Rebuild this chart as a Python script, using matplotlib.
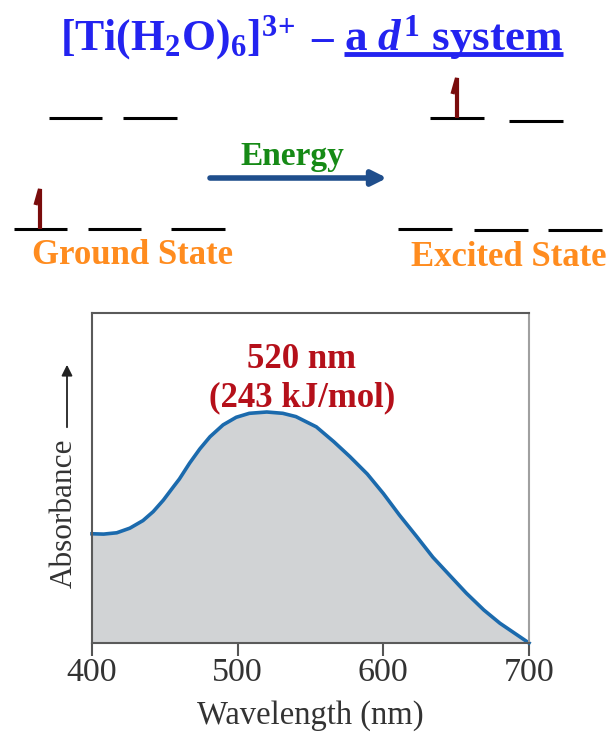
import matplotlib
matplotlib.use('Agg')
import matplotlib.pyplot as plt

plt.rcParams['font.family'] = ['Liberation Serif', 'DejaVu Serif']
plt.rcParams['mathtext.fontset'] = 'custom'
plt.rcParams['mathtext.rm'] = 'Liberation Serif:bold'
plt.rcParams['mathtext.bf'] = 'Liberation Serif:bold'
plt.rcParams['mathtext.it'] = 'Liberation Serif:bold:italic'

# absorption spectrum
wavelength = [400, 408, 417, 426, 435, 442, 449, 456, 460, 467, 474, 481,
              490, 499, 508, 520, 531, 540, 554, 566, 577, 589, 600, 611,
              623, 634, 646, 657, 669, 680, 692, 700]
absorbance = [0.331, 0.330, 0.334, 0.348, 0.371, 0.398, 0.433, 0.474, 0.497,
              0.545, 0.588, 0.625, 0.661, 0.684, 0.696, 0.700, 0.696, 0.686,
              0.655, 0.610, 0.565, 0.512, 0.453, 0.388, 0.322, 0.260, 0.203,
              0.151, 0.100, 0.060, 0.024, 0.0]
xticks = [400, 500, 600, 700]

fig = plt.figure(figsize=(6.1, 7.32), dpi=100)

# spectrum
ax = fig.add_axes([92/610, 1-643/732, 437/610, 330/732])
ax.fill_between(wavelength, absorbance, 0, color='#d1d3d5', lw=0)
ax.plot(wavelength, absorbance, color='#1b6aad', lw=2.6, clip_on=False)
ax.set_xlim(400, 700)
ax.set_ylim(0, 1)
ax.set_xticks(xticks)
ax.set_yticks([])
ax.tick_params(axis='x', direction='out', length=9.5, width=1.5, color='#555555',
               labelsize=24.5, labelcolor='#333333', pad=1)
for s in ['left', 'top', 'bottom']:
    ax.spines[s].set_color('#5a5a5a')
    ax.spines[s].set_linewidth(1.5)
ax.spines['right'].set_color('#a0a0a0')
ax.spines['right'].set_linewidth(1.5)
ax.set_xlabel('Wavelength (nm)', fontsize=23.5, color='#333333', va='baseline')
ax.xaxis.set_label_coords(0.5, -0.2455)
ax.text(0.48, 0.858, '520 nm', transform=ax.transAxes, ha='center', va='center',
        fontsize=25, fontweight='bold', color='#b5101a')
ax.text(0.48, 0.742, '(243 kJ/mol)', transform=ax.transAxes, ha='center', va='center',
        fontsize=25, fontweight='bold', color='#b5101a')

# overlay in pixel units for the diagram
ov = fig.add_axes([0, 0, 1, 1])
ov.set_xlim(0, 610)
ov.set_ylim(732, 0)
ov.axis('off')

# y label with arrow
ov.text(64, 513, 'Absorbance', rotation=90, ha='center', va='center',
        fontsize=22.5, color='#333333')
ov.annotate('', xy=(67, 362), xytext=(67, 430),
            arrowprops=dict(arrowstyle='-|>', color='#222222', lw=1.3,
                            mutation_scale=16))

# title
blue = '#2323f0'
ov.text(60, 50, r'$\mathrm{[Ti(H_2O)_6]^{3\!+}}$', fontsize=31.5, color=blue,
        ha='left', va='baseline')
ov.text(311, 50, '\u2013', fontsize=31, color=blue, fontweight='bold',
        ha='left', va='baseline')
t3 = ov.text(344, 50, r'a $d^1$ system', fontsize=32.5, color=blue,
             fontweight='bold', ha='left', va='baseline')
fig.canvas.draw()
bb = t3.get_window_extent().transformed(ov.transData.inverted())
ov.plot([bb.x0, bb.x1], [54, 54], color=blue, lw=3.5, solid_capstyle='butt')

# energy levels
def level(x0, x1, y):
    ov.plot([x0, x1], [y, y], color='black', lw=2.2, solid_capstyle='butt')

def electron(x, base):
    ov.plot([x - 4.5, x, x], [base - 24, base - 40, base], color='#7a0c0c',
            lw=3, solid_capstyle='butt', solid_joinstyle='miter')

level(49, 102, 118)
level(123, 177, 118)
level(14, 67, 229)
level(88, 141, 229)
level(171, 225, 229)
electron(40, 229)

level(430, 484, 118)
level(509, 563, 121)
level(398, 452, 229)
level(474, 528, 230)
level(548, 602, 230)
electron(457, 118)

ov.text(132, 255, 'Ground State', fontsize=25, fontweight='bold', color='#ff8c1f',
        ha='center', va='center')
ov.text(509, 257, 'Excited State', fontsize=25, fontweight='bold', color='#ff8c1f',
        ha='center', va='center')

ov.text(292, 157, 'Energy', fontsize=24, fontweight='bold', color='#168a16',
        ha='center', va='center')
ov.annotate('', xy=(387, 178), xytext=(210, 178),
            arrowprops=dict(arrowstyle='-|>', color='#1f4e8c', lw=4,
                            mutation_scale=22, shrinkA=0, shrinkB=0))

fig.savefig('out.png', dpi=100)
